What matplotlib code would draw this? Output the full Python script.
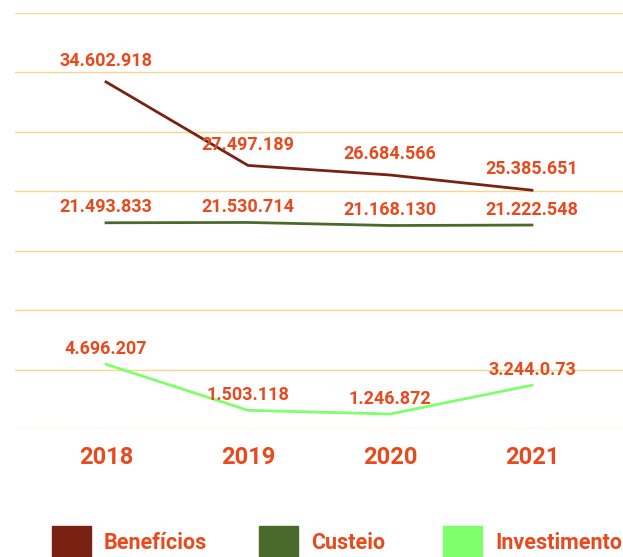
import numpy as np
import matplotlib.pyplot as plt
from matplotlib.patches import Rectangle

plt.rcParams['font.family'] = ['Roboto', 'DejaVu Sans']

years = ['2018', '2019', '2020', '2021']
beneficios = [34602918, 27497189, 26684566, 25385651]
custeio = [21493833, 21530714, 21168130, 21222548]
investimento = [4696207, 1503118, 1246872, 3244073]

# labels as printed on the original (including its typo)
beneficios_labels = ['34.602.918', '27.497.189', '26.684.566', '25.385.651']
custeio_labels = ['21.493.833', '21.530.714', '21.168.130', '21.222.548']
investimento_labels = ['4.696.207', '1.503.118', '1.246.872', '3.244.0.73']

series_names = ['Benefícios', 'Custeio', 'Investimento']
series_colors = ['#7A2211', '#4A6A2B', '#80FF6C']
text_color = '#E8491D'
grid_color = '#F9D68F'

# the original chart is not linear: piecewise scale (millions -> grid steps)
anchor_vals = [0, 4.7, 21.35, 25.4, 34.6, 45]
anchor_steps = [-0.05, 1.09, 3.45, 4.02, 5.84, 7.9]


def fwd(v):
    return np.interp(np.asarray(v, dtype=float) / 1e6, anchor_vals, anchor_steps)


def inv(t):
    return np.interp(np.asarray(t, dtype=float), anchor_steps, anchor_vals) * 1e6


fig = plt.figure(figsize=(6.23, 5.57), dpi=100)
ax = fig.add_axes([15 / 623, 128 / 557, 608 / 623, 416 / 557])
ax.set_yscale('function', functions=(fwd, inv))
ax.set_ylim(inv(0), inv(7))
ax.set_yticks(inv(np.arange(8)))
ax.grid(axis='y', color=grid_color, lw=1)
ax.set_axisbelow(True)
ax.tick_params(axis='y', left=False, labelleft=False)
for s in ax.spines.values():
    s.set_visible(False)

x = np.arange(len(years))
ax.set_xlim(-0.641, 3.641)
ax.set_xticks(x)
ax.set_xticklabels(years, fontsize=17, fontweight='bold', color=text_color)
ax.tick_params(axis='x', length=0, pad=12)

all_vals = [beneficios, custeio, investimento]
all_labels = [beneficios_labels, custeio_labels, investimento_labels]
for vals, labs, c, off in zip(all_vals, all_labels, series_colors, [15, 11, 11]):
    ax.plot(x, vals, color=c, lw=2)
    for xi, v, lab in zip(x, vals, labs):
        ax.annotate(lab, (xi, v), xytext=(0, off), textcoords='offset points',
                    ha='center', va='center', fontsize=13, fontweight='bold',
                    color=text_color, annotation_clip=False)

# legend at the bottom
for name, c, x0 in zip(series_names, series_colors, [52, 259, 443]):
    fig.add_artist(Rectangle((x0 / 623, 0), 39 / 623, 31 / 557,
                             transform=fig.transFigure, color=c))
    fig.text((x0 + 52) / 623, (557 - 543) / 557, name, va='center', ha='left',
             fontsize=15.5, fontweight='bold', color=text_color)

fig.savefig('out.png', dpi=100)
